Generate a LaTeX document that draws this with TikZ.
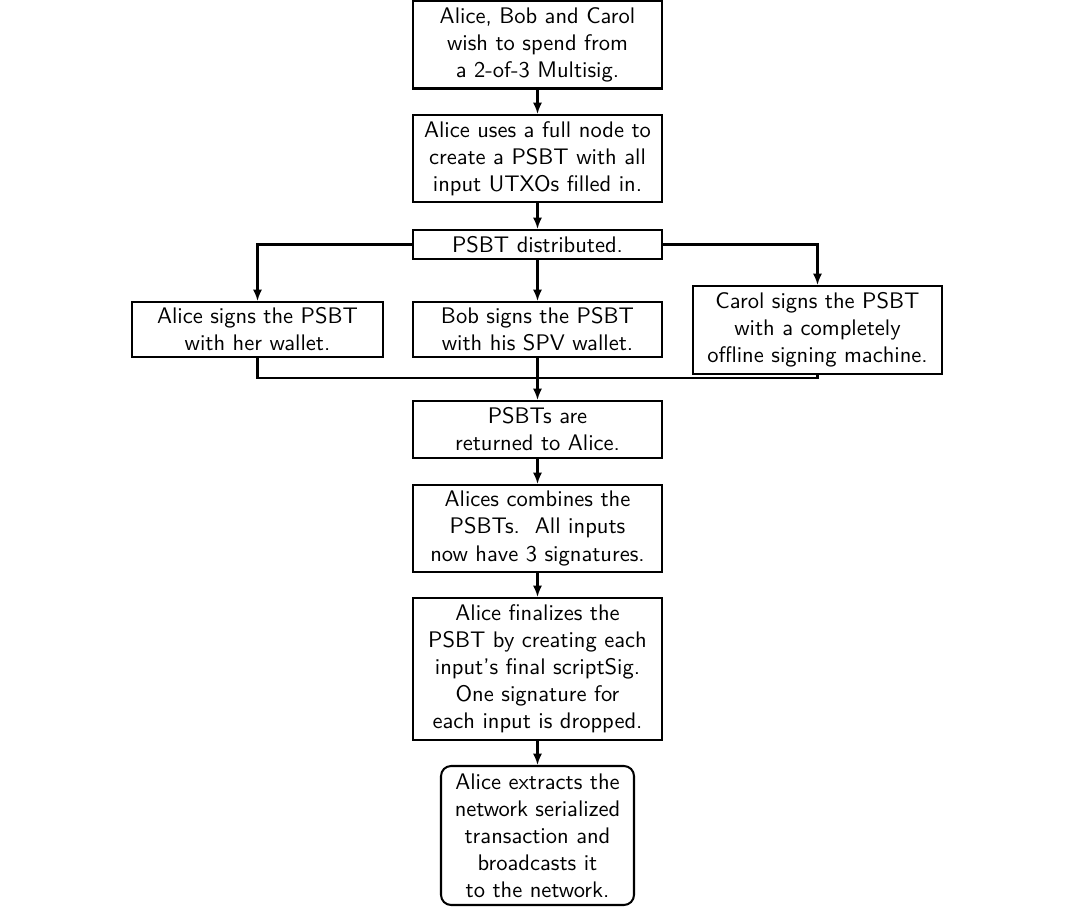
\documentclass[tikz,border=0pt]{standalone}
\usetikzlibrary{arrows.meta}
\begin{document}
\begin{tikzpicture}[x=0.444pt,y=-0.444pt,
  box/.style={draw,line width=0.9pt,inner sep=0pt,align=center,font=\sffamily,minimum width=249*0.444pt},
  conn/.style={line width=0.9pt},
  arr/.style={line width=0.9pt,-{Latex[length=5pt,width=4pt]}}]
\useasboundingbox (0,0) rectangle (1080,911);
\node[box,minimum height=88*0.444pt] (b1) at (537.5,44.5) {Alice, Bob and Carol\\wish to spend from\\a 2-of-3 Multisig.};
\node[box,minimum height=87*0.444pt] (b2) at (537.5,158.5) {Alice uses a full node to\\create a PSBT with all\\input UTXOs filled in.};
\node[box,minimum height=29*0.444pt] (b3) at (537.5,244.5) {PSBT distributed.};
\node[box,minimum width=251*0.444pt,minimum height=55*0.444pt] (ba) at (257.5,329.5) {Alice signs the PSBT\\with her wallet.};
\node[box,minimum height=55*0.444pt] (bb) at (537.5,329.5) {Bob signs the PSBT\\with his SPV wallet.};
\node[box,minimum height=88*0.444pt] (bc) at (817.5,330) {Carol signs the PSBT\\with a completely\\offline signing machine.};
\node[box,minimum height=57*0.444pt] (b4) at (537.5,429.5) {PSBTs are\\returned to Alice.};
\node[box,minimum height=87*0.444pt] (b5) at (537.5,528.5) {Alices combines the\\PSBTs.\ \ All inputs\\now have 3 signatures.};
\node[box,minimum height=142*0.444pt] (b6) at (537.5,669) {Alice finalizes the\\PSBT by creating each\\input's final scriptSig.\\One signature for\\each input is dropped.};
\node[box,rounded corners=4.5pt,minimum width=193*0.444pt,minimum height=139*0.444pt] (b7) at (537.5,835.5) {Alice extracts the\\network serialized\\transaction and\\broadcasts it\\to the network.};
\coordinate (m) at (537.5,378);
\draw[arr] (b1) -- (b2);
\draw[arr] (b2) -- (b3);
\draw[arr] (b3.west) -| (ba.north);
\draw[arr] (b3) -- (bb);
\draw[arr] (b3.east) -| (bc.north);
\draw[conn] (ba.south) |- (m) -| (bc.south);
\draw[arr] (bb.south) -- (b4.north);
\draw[arr] (b4) -- (b5);
\draw[arr] (b5) -- (b6);
\draw[arr] (b6) -- (b7);
\end{tikzpicture}
\end{document}
